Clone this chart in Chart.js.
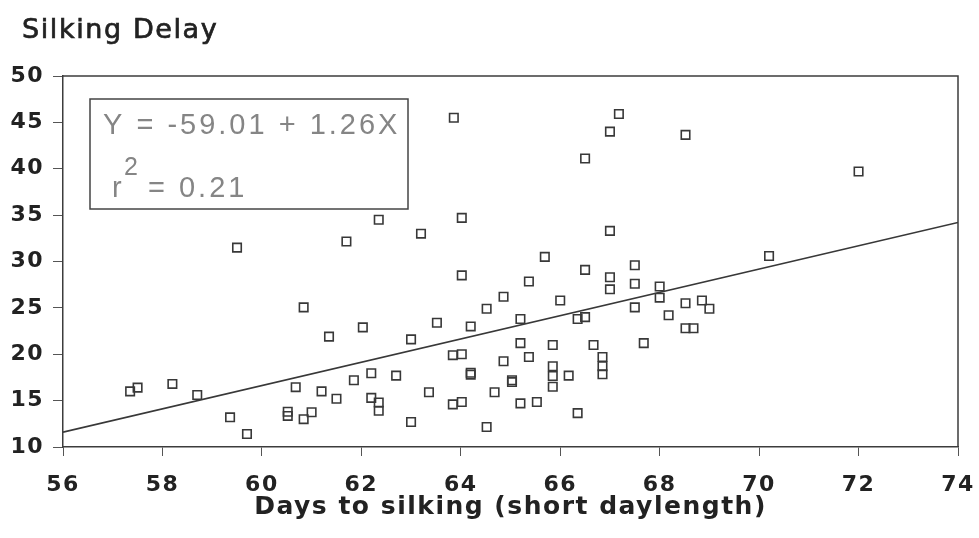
<!DOCTYPE html>
<html>
<head>
<meta charset="utf-8">
<script src="https://cdn.jsdelivr.net/npm/chart.js@4/dist/chart.umd.min.js"></script>
<style>
  html, body { margin: 0; padding: 0; background: #fff; }
  #wrap { width: 979px; height: 538px; position: relative; }
</style>
</head>
<body>
<div id="wrap"><canvas id="silkCanvas"></canvas></div>
<script>
// Days to silking (short daylength) vs silking delay
var daysToSilking = [
    57.35, 57.5, 58.2, 58.7, 59.36, 59.7, 59.5, 60.52, 60.52, 60.68,
    60.84, 60.84, 61.0, 61.2, 61.35, 61.5, 61.7, 61.85, 62.03, 62.2,
    62.2, 62.35, 62.35, 62.35, 62.7, 63.0, 63.0, 63.2, 63.36, 63.52,
    63.84, 63.84, 63.86, 64.02, 64.02, 64.02, 64.02, 64.2, 64.2, 64.2,
    64.52, 64.52, 64.68, 64.86, 64.86, 65.03, 65.03, 65.2, 65.2, 65.2,
    65.37, 65.37, 65.53, 65.69, 65.85, 65.85, 65.85, 65.85, 66.0, 66.17,
    66.35, 66.35, 66.5, 66.5, 66.5, 66.67, 66.85, 66.85, 66.85, 67.0,
    67.0, 67.0, 67.0, 67.18, 67.5, 67.5, 67.5, 67.68, 68.0, 68.0,
    68.18, 68.52, 68.52, 68.52, 68.68, 68.85, 69.0, 70.2, 72.0
];
var silkingDelay = [
    16.0, 16.4, 16.8, 15.6, 13.2, 11.4, 31.5, 13.8, 13.35, 16.45,
    13.0, 25.05, 13.75, 16.0, 21.9, 15.2, 32.15, 17.2, 22.9, 17.95,
    15.3, 14.8, 13.9, 34.5, 17.7, 21.6, 12.7, 33.0, 15.9, 23.4,
    19.9, 14.6, 45.5, 20.0, 14.85, 28.5, 34.7, 23.0, 18.0, 17.8,
    24.9, 12.15, 15.9, 26.2, 19.25, 17.2, 17.0, 23.8, 21.2, 14.7,
    27.85, 19.7, 14.85, 30.5, 21.0, 18.7, 17.65, 16.5, 25.8, 17.7,
    23.8, 13.65, 24.0, 29.1, 41.1, 21.0, 19.7, 18.7, 17.85, 28.3,
    27.0, 33.3, 44.0, 45.9, 29.6, 27.6, 25.05, 21.2, 27.3, 26.1,
    24.2, 25.5, 22.8, 43.65, 22.8, 25.8, 24.9, 30.6, 39.7
];

// fitted line ends (Y = -59.01 + 1.26X)
var fitX = [56, 74];
var fitY = [11.6, 34.2];

var xTicks = [56, 58, 60, 62, 64, 66, 68, 70, 72, 74];
var yTicks = [10, 15, 20, 25, 30, 35, 40, 45, 50];

var chartTitle = 'Silking Delay';
var xTitle = 'Days to silking (short daylength)';
var eqLine1 = 'Y = -59.01 + 1.26X';
var eqLine2a = 'r';
var eqSup = '2';
var eqLine2b = '= 0.21';

function toPoints(xs, ys) {
    var pts = [];
    for (var i = 0; i < xs.length; i++) pts.push({ x: xs[i], y: ys[i] });
    return pts;
}

// spacing for the wide old-style lettering on the axes
var spacingPlugin = {
    id: 'spacing',
    beforeDraw: function (chart) { chart.ctx.letterSpacing = '1.5px'; },
    beforeDatasetsDraw: function (chart) { chart.ctx.letterSpacing = '0px'; }
};

// frame, title and the regression box
var decorPlugin = {
    id: 'decor',
    afterDraw: function (chart) {
        var ctx = chart.ctx;
        var a = chart.chartArea;
        ctx.save();
        ctx.strokeStyle = '#3c3c3c';
        ctx.lineWidth = 1.5;
        ctx.beginPath();
        ctx.moveTo(a.left, a.top);
        ctx.lineTo(a.right, a.top);
        ctx.lineTo(a.right, a.bottom);
        ctx.stroke();

        ctx.fillStyle = '#222';
        ctx.strokeStyle = '#222';
        ctx.lineWidth = 0.7;
        ctx.font = '27px "DejaVu Sans"';
        ctx.letterSpacing = '1.6px';
        ctx.textBaseline = 'alphabetic';
        ctx.textAlign = 'left';
        ctx.fillText(chartTitle, 22, 38);
        ctx.strokeText(chartTitle, 22, 38);

        // equation box
        var bx = a.left + 27, by = a.top + 23;
        ctx.strokeStyle = '#444';
        ctx.lineWidth = 1.5;
        ctx.strokeRect(bx, by, 318, 110);
        ctx.fillStyle = '#858585';
        ctx.font = '29px "Liberation Sans"';
        ctx.letterSpacing = '3px';
        ctx.fillText(eqLine1, bx + 13, by + 35);
        ctx.fillText(eqLine2a, bx + 22, by + 98);
        ctx.font = '25px "Liberation Sans"';
        ctx.fillText(eqSup, bx + 34, by + 76);
        ctx.font = '29px "Liberation Sans"';
        ctx.fillText(eqLine2b, bx + 58, by + 98);
        ctx.restore();
    }
};

var ctx = document.getElementById('silkCanvas').getContext('2d');
var silkChart = new Chart(ctx, {
    type: 'scatter',
    data: {
        datasets: [
            {
                label: 'Lines',
                data: toPoints(daysToSilking, silkingDelay),
                pointStyle: 'rect',
                pointRadius: 6,
                borderColor: '#383838',
                borderWidth: 1.6,
                backgroundColor: 'rgba(255,255,255,0)'
            },
            {
                label: 'Fit',
                data: toPoints(fitX, fitY),
                showLine: true,
                pointRadius: 0,
                borderColor: '#383838',
                borderWidth: 1.6,
                fill: false
            }
        ]
    },
    options: {
        responsive: true,
        maintainAspectRatio: false,
        animation: false,
        layout: { padding: { top: 76, right: 21, bottom: 0, left: 0 } },
        plugins: {
            legend: { display: false },
            tooltip: { enabled: false }
        },
        scales: {
            x: {
                type: 'linear',
                min: xTicks[0],
                max: xTicks[xTicks.length - 1],
                afterBuildTicks: function (scale) {
                    scale.ticks = xTicks.map(function (v) { return { value: v }; });
                },
                afterFit: function (scale) {
                    scale.height = 91;
                    scale.paddingLeft = 0;
                    scale.paddingRight = 0;
                },
                grid: {
                    drawOnChartArea: false,
                    drawTicks: true,
                    tickLength: 9,
                    tickColor: '#555',
                    tickWidth: 1
                },
                border: { color: '#3c3c3c', width: 1.5 },
                ticks: {
                    color: '#222',
                    padding: 16,
                    maxRotation: 0,
                    font: { family: 'DejaVu Sans', weight: 'bold', size: 22 }
                },
                title: {
                    display: true,
                    text: xTitle,
                    color: '#222',
                    padding: { top: 0, bottom: 16 },
                    font: { family: 'DejaVu Sans', weight: 'bold', size: 25 }
                }
            },
            y: {
                type: 'linear',
                min: yTicks[0],
                max: yTicks[yTicks.length - 1],
                afterBuildTicks: function (scale) {
                    scale.ticks = yTicks.map(function (v) { return { value: v }; });
                },
                afterFit: function (scale) { scale.width = 63; },
                grid: {
                    drawOnChartArea: false,
                    drawTicks: true,
                    tickLength: 10,
                    tickColor: '#555',
                    tickWidth: 1
                },
                border: { color: '#3c3c3c', width: 1.5 },
                ticks: {
                    color: '#222',
                    padding: 9,
                    font: { family: 'DejaVu Sans', weight: 'bold', size: 22 }
                }
            }
        }
    },
    plugins: [spacingPlugin, decorPlugin]
});
</script>
</body>
</html>
